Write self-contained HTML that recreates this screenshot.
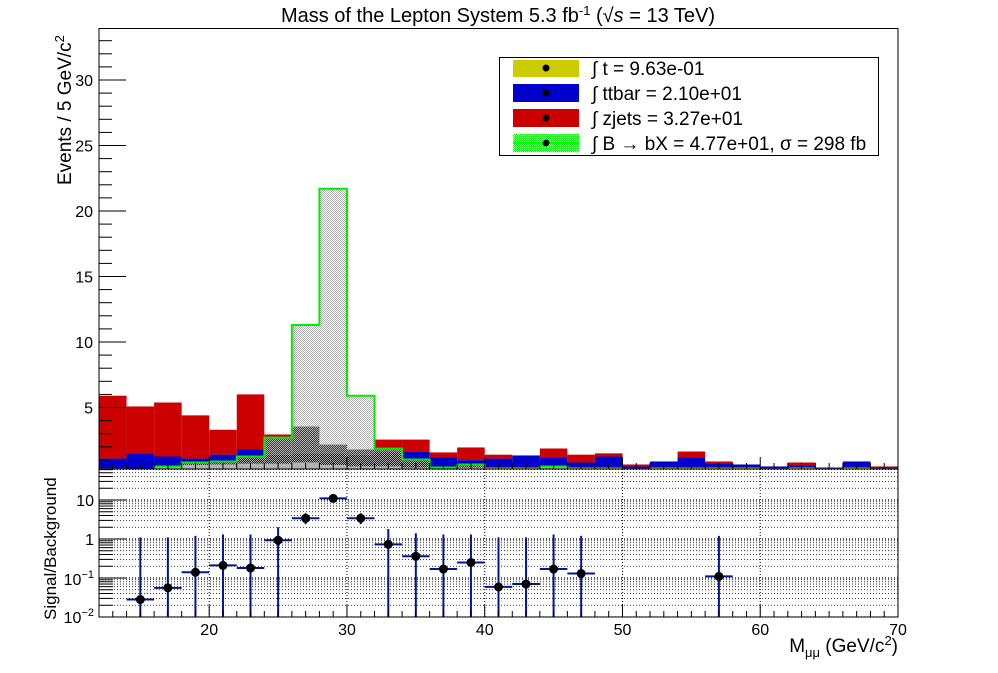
<!DOCTYPE html>
<html><head><meta charset="utf-8"><style>
body{margin:0;background:#fff}
svg{display:block;font-family:"Liberation Sans",sans-serif}
</style></head><body>
<svg id="c" width="998" height="673" viewBox="0 0 998 673">
<defs>
<pattern id="hatch" width="2" height="2" patternUnits="userSpaceOnUse">
<rect x="0" y="0" width="1" height="1" fill="#b0b0b0"/><rect x="1" y="1" width="1" height="1" fill="#b0b0b0"/>
</pattern>
<pattern id="lhatch" width="2" height="2" patternUnits="userSpaceOnUse">
<rect width="2" height="2" fill="#fff"/><rect x="0" y="0" width="1" height="1" fill="#0f0"/><rect x="1" y="1" width="1" height="1" fill="#0f0"/>
</pattern>
<clipPath id="topclip"><rect x="99" y="28" width="799" height="441"/></clipPath>
<clipPath id="botclip"><rect x="99" y="469" width="799" height="148"/></clipPath>
</defs>
<g id="g"></g>
</svg>
<script>
const binEdges0 = 12, binWidth = 2;
const tVals = [0.35,0.3,0.5,0.6,0.65,0.7,0.7,0.8,0.6,0.5,0.5,0.4,0.4,0.4,0.4,0.4,0.5,0.4,0.4,0.35,0.4,0.4,0.4,0.4,0.35,0.4,0.35,0.4,0.35];
const ttbarVals = [0.75,1.2,0.76,0.5,0.75,1.1,0.7,0.7,0.9,0.9,1.1,1.23,0.78,0.58,0.7,0.94,0.7,0.4,0.86,0.15,0.48,0.78,0.32,0.25,0.15,0.2,0.07,0.48,0.07];
const zjetsVals = [4.8,3.58,4.12,3.3,1.9,4.2,1.54,2.05,0.67,0.4,0.95,0.92,0.39,0.97,0.3,0,0.67,0.6,0.24,0.15,0,0.46,0.16,0,0,0.2,0,0,0.08];
const sigVals = [0.1,0.1,0.5,0.8,0.88,1.26,2.7,11.3,21.7,5.9,1.86,1.03,0.42,0.65,0.1,0.1,0.5,0.1,0.1,0.1,0.1,0.1,0.1,0.1,0.1,0.1,0.1,0.1,0.1];
const ratioX = [15,17,19,21,23,25,27,29,31,33,35,37,39,41,43,45,47,57];
const ratioY = [0.028,0.056,0.14,0.21,0.18,0.93,3.4,11,3.4,0.73,0.36,0.17,0.25,0.059,0.07,0.17,0.13,0.11];
const ratioUp = [1.1,1.1,1.2,1.3,1.3,2,4.6,12,4.6,1.8,1.4,1.3,1.3,1.1,1.1,1.3,1.2,1.2];
const ratioLo = [0.001,0.001,0.001,0.001,0.001,0.001,2.4,10,2.4,0.001,0.001,0.001,0.001,0.001,0.001,0.001,0.001,0.001];
const xTicks = [20,30,40,50,60,70];
const yTicks = [5,10,15,20,25,30];

const NS="http://www.w3.org/2000/svg";
const G=document.getElementById('g');
function el(tag,attrs,parent){const e=document.createElementNS(NS,tag);for(const k in attrs)e.setAttribute(k,attrs[k]);(parent||G).appendChild(e);return e;}
const X=v=>99+(v-12)*(799/58);
const Y=v=>473-13.1*v;
const LY=v=>617-39*(Math.log10(v)+2);

const topG=el('g',{'clip-path':'url(#topclip)'});


for(let i=0;i<tVals.length;i++){
  const x0=X(binEdges0+i*binWidth), x1=X(binEdges0+(i+1)*binWidth);
  const a=tVals[i], b=a+ttbarVals[i], c=b+zjetsVals[i];
  let r=el('rect',{x:x0,y:Y(c),width:x1-x0,height:Y(b)-Y(c),fill:'#cc0000'},topG);
  
  
  r=el('rect',{x:x0,y:Y(b),width:x1-x0,height:Y(a)-Y(b),fill:'#0000cc'},topG);
  
  
  r=el('rect',{x:x0,y:Y(a),width:x1-x0,height:Y(0)-Y(a),fill:'#cccc00'},topG);
  
  
}
let d='M'+X(12)+','+Y(0);
for(let i=0;i<sigVals.length;i++){
  const x0=X(binEdges0+i*binWidth), x1=X(binEdges0+(i+1)*binWidth);
  d+=' L'+x0+','+Y(sigVals[i])+' L'+x1+','+Y(sigVals[i]);
}
d+=' L'+X(70)+','+Y(0)+' Z';
const sigPath=el('path',{d:d,fill:'url(#hatch)',stroke:'#00ee00','stroke-width':2},topG);



el('rect',{x:99,y:28.5,width:799,height:440.5,fill:'none',stroke:'#000','stroke-width':1});
for(let v=1;v<=33;v++){
  const major=v%5===0;
  el('line',{x1:99,x2:major?126:112,y1:Y(v),y2:Y(v),stroke:'#000'});
}
yTicks.forEach(v=>{const t=el('text',{x:93,y:Y(v)+6,'text-anchor':'end','font-size':16});t.textContent=v;

});
for(let v=12;v<=70;v++){const major=v%10===0;el('line',{x1:X(v),x2:X(v),y1:469,y2:469-(major?12:6),stroke:'#000'});}

const bot=el('g',{'clip-path':'url(#botclip)'});


for(let e=-2;e<=1;e++){for(let m=1;m<=9;m++){const v=m*Math.pow(10,e);const y=LY(v);if(y<469)continue;
  el('line',{x1:99,x2:898,y1:y,y2:y,stroke:'#000','stroke-dasharray':'1,2','stroke-width':m===1?1.3:0.8},bot);
  el('line',{x1:99,x2:m===1?127:113,y1:y,y2:y,stroke:'#000'},bot);}}
xTicks.forEach(v=>{el('line',{x1:X(v),x2:X(v),y1:469,y2:617,stroke:'#000','stroke-dasharray':'1,2'},bot);});
for(let v=12;v<=70;v++){const major=v%10===0;el('line',{x1:X(v),x2:X(v),y1:617,y2:617-(major?12:6),stroke:'#000'});}
for(let i=0;i<ratioX.length;i++){
  const cx=X(ratioX[i]),cy=LY(ratioY[i]);
  let l=el('line',{x1:X(ratioX[i]-1),x2:X(ratioX[i]+1),y1:cy,y2:cy,stroke:'#00169a','stroke-width':2},bot);
  
  
  l=el('line',{x1:cx,x2:cx,y1:LY(ratioUp[i]),y2:LY(ratioLo[i]),stroke:'#00169a','stroke-width':2},bot);
  
  
  const p=el('circle',{cx:cx,cy:cy,r:4.5,fill:'#000'},bot);
  
  
}
el('rect',{x:99,y:469,width:799,height:148,fill:'none',stroke:'#000'});
xTicks.forEach(v=>{const t=el('text',{x:X(v),y:635,'text-anchor':'middle','font-size':16});t.textContent=v;

});
</script>
<svg style="position:absolute;left:0;top:0" width="998" height="673">
<g font-family="Liberation Sans, sans-serif" fill="#000">
<text x="94" y="506" text-anchor="end" font-size="16">10</text>
<text x="94" y="545" text-anchor="end" font-size="16">1</text>
<text x="94" y="585" text-anchor="end" font-size="16">10<tspan dy="-7" font-size="11">−1</tspan></text>
<text x="94" y="623" text-anchor="end" font-size="16">10<tspan dy="-7" font-size="11">−2</tspan></text>
<text x="498" y="22" text-anchor="middle" font-size="20">Mass of the Lepton System 5.3 fb<tspan dy="-7" font-size="13">-1</tspan><tspan dy="7"> (√</tspan><tspan font-style="italic">s</tspan> = 13 TeV)</text>
<text transform="translate(71,185) rotate(-90)" font-size="19">Events / 5 GeV/c<tspan dy="-7" font-size="13">2</tspan></text>
<text transform="translate(56,620) rotate(-90)" font-size="17">Signal/Background</text>
<text x="898" y="652" text-anchor="end" font-size="19">M<tspan font-size="13" dy="5">μμ</tspan><tspan dy="-5"> (GeV/c</tspan><tspan dy="-7" font-size="13">2</tspan><tspan dy="7">)</tspan></text>
</g>
<g font-family="Liberation Sans, sans-serif" font-size="19">
<rect x="499.5" y="57.5" width="379" height="98" fill="#fff" stroke="#000"/>
<rect x="513" y="60" width="66" height="17" fill="#cccc00"/><circle cx="546" cy="68" r="3.5"/>
<text x="592" y="75">∫ t = 9.63e-01</text>
<rect x="513" y="84" width="66" height="18" fill="#0000cc"/><circle cx="546" cy="93" r="3.5"/>
<text x="592" y="100">∫ ttbar = 2.10e+01</text>
<rect x="513" y="109" width="66" height="18" fill="#cc0000"/><circle cx="546" cy="118" r="3.5"/>
<text x="592" y="125">∫ zjets = 3.27e+01</text>
<rect x="513" y="134" width="66" height="18" fill="url(#lhatch)"/><line x1="513" x2="579" y1="143" y2="143" stroke="#0f0" stroke-width="2"/><circle cx="546" cy="143" r="3.5"/>
<text x="592" y="150">∫ B → bX = 4.77e+01, σ = 298 fb</text>
</g>
</svg>
</body></html>
